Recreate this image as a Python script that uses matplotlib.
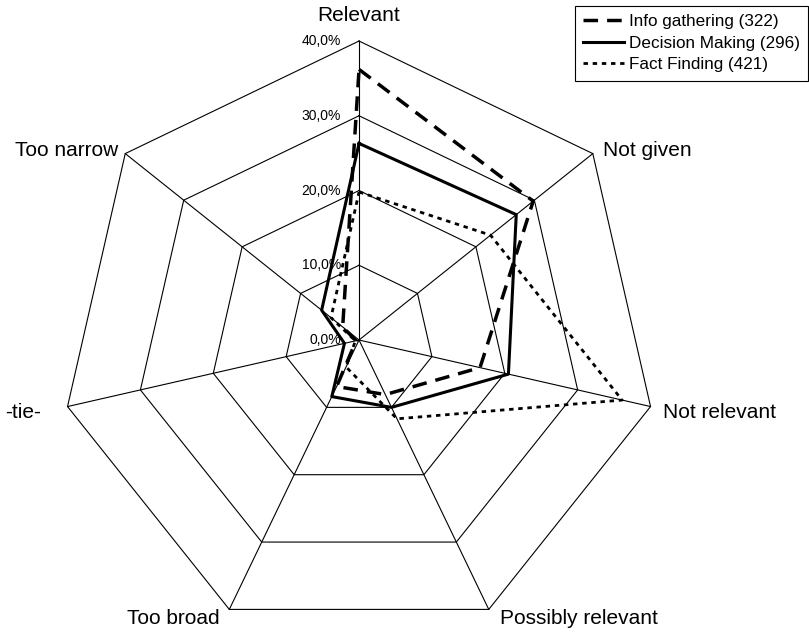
import numpy as np
import matplotlib
matplotlib.use("Agg")
from matplotlib import pyplot as plt

# answer categories, clockwise from the top
categories = ["Relevant", "Not given", "Not relevant", "Possibly relevant",
              "Too broad", "-tie-", "Too narrow"]

# share of answers per task type (%)
info_gathering = [36.2, 29.8, 16.6, 8.1, 6.9, 0.4, 2.8]
decision_making = [26.3, 26.9, 20.5, 10.0, 8.4, 2.0, 6.4]
fact_finding = [19.8, 22.5, 36.1, 11.7, 4.0, 0.5, 4.8]

series_names = ["Info gathering (322)", "Decision Making (296)", "Fact Finding (421)"]
ring_levels = [0, 10, 20, 30, 40]
ring_labels = ["0,0%", "10,0%", "20,0%", "30,0%", "40,0%"]

plt.rcParams["font.family"] = ["Liberation Sans", "DejaVu Sans"]

fig = plt.figure(figsize=(8.09, 6.33), dpi=100)
ax = fig.add_axes([0.0742, -0.0095, 0.7392, 0.9447], projection="polar")
ax.set_theta_offset(np.pi / 2)
ax.set_theta_direction(-1)
ax.set_ylim(0, 40)
ax.grid(False)
ax.set_xticks([])
ax.set_yticks([])
ax.spines["polar"].set_visible(False)

n = len(categories)
angles = np.arange(n) * 2 * np.pi / n
closed = np.append(angles, angles[0])

# web: rings and spokes
for lvl in ring_levels[1:]:
    ax.plot(closed, [lvl] * (n + 1), color="black", lw=0.8, clip_on=False, zorder=1)
for a in angles:
    ax.plot([a, a], [0, 40], color="black", lw=0.8, clip_on=False, zorder=1)


def close(vals):
    return list(vals) + [vals[0]]


l1, = ax.plot(closed, close(info_gathering), color="black", lw=2.5,
              dashes=(4.2, 2.6), clip_on=False, zorder=3)
l2, = ax.plot(closed, close(decision_making), color="black", lw=2.2,
              clip_on=False, zorder=3)
l3, = ax.plot(closed, close(fact_finding), color="black", lw=2.0,
              dashes=(1.6, 1.7), clip_on=False, zorder=3)

# value labels along the top spoke
for lvl, txt in zip(ring_levels, ring_labels):
    ax.annotate(txt, xy=(0, lvl), xytext=(-13, 0), textcoords="offset points",
                ha="right", va="center", fontsize=10)

# category labels: offsets in pixels from the outer vertex
px = 0.72
label_pos = [
    (0, 20, "center"),
    (10, -2.5, "left"),
    (12.5, -11.5, "left"),
    (11, -14.5, "left"),
    (-10, -14.5, "right"),
    (-27, -11.5, "right"),
    (-7, -2.5, "right"),
]
for a, name, (dx, dy, ha) in zip(angles, categories, label_pos):
    ax.annotate(name, xy=(a, 40), xytext=(dx * px, dy * px), textcoords="offset points",
                ha=ha, va="baseline", fontsize=15, annotation_clip=False)

leg = fig.legend([l1, l2, l3], series_names, loc="upper right",
                 bbox_to_anchor=(808 / 809, 1 - 6 / 633), borderaxespad=0,
                 fontsize=12.3, handlelength=2.4, handletextpad=0.25,
                 labelspacing=0.38, borderpad=0.49, fancybox=False,
                 framealpha=1, edgecolor="black")
leg.get_frame().set_linewidth(0.8)

fig.savefig("out.png", dpi=100)
